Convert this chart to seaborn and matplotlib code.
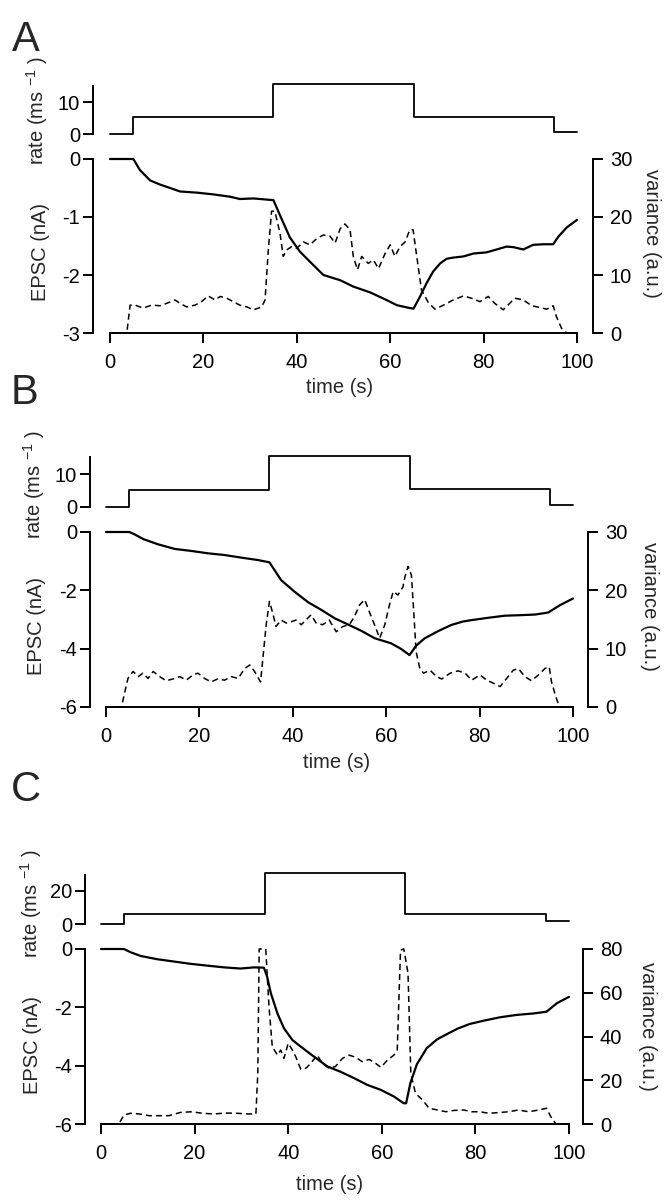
import matplotlib
matplotlib.use("Agg")
import matplotlib.pyplot as plt
import seaborn as sns

# ---------------- data ----------------
rate_t = [0, 5, 35, 65, 95, 100]
A_rate = [0, 5.3, 15.5, 5.3, 0.6, 0.6]
B_rate = [0, 5.3, 15.5, 5.5, 0.7, 0.7]
C_rate = [0, 5.9, 31.0, 6.2, 1.8, 1.8]

A_epsc_t = [0, 5, 6.4, 8.6, 10.7, 13.6, 15, 18.6, 22.1, 25.7, 27.8, 30.7, 33.6, 35, 36.4, 38.5,
            40.7, 42.8, 45.7, 49.3, 52.1, 55.7, 59.2, 61.4, 64.2, 65, 66.4, 67.8, 69.2, 70.7,
            72.1, 73.5, 75.7, 77.8, 80.6, 82.8, 84.9, 86.4, 88.5, 90.6, 92.8, 94.9, 96, 97.8, 100]
A_epsc = [0, 0, -0.19, -0.37, -0.44, -0.52, -0.56, -0.58, -0.61, -0.65, -0.69, -0.68, -0.70, -0.71,
          -0.97, -1.35, -1.60, -1.77, -2.0, -2.09, -2.20, -2.30, -2.43, -2.52, -2.57, -2.58, -2.37,
          -2.14, -1.94, -1.80, -1.72, -1.70, -1.68, -1.63, -1.61, -1.56, -1.51, -1.52, -1.56, -1.48,
          -1.47, -1.47, -1.34, -1.18, -1.05]

A_var_t = [0, 3.6, 4.3, 5.4, 7.1, 8.9, 10.7, 12.1, 13.9, 15, 16.4, 18.2, 19.6, 21, 22.5, 23.6, 25,
           26.4, 27.8, 29.3, 30.7, 32.5, 33.2, 33.9, 34.6, 35.3, 36.4, 37.1, 37.8, 38.9, 40, 41.4,
           42.8, 44.3, 45.7, 47.1, 48.2, 49.3, 50.3, 51.4, 52.1, 53, 53.9, 55.3, 56.4, 57.5, 58.9,
           60, 61, 62.1, 63.2, 64.2, 64.9, 65.6, 66.7, 68.2, 69.6, 71.4, 73.5, 75.7, 77.8, 79.2,
           81, 82.4, 84.2, 85.7, 86.7, 88.5, 90.3, 92.1, 93.5, 94.9, 95.6, 96.7, 97.8, 100]
A_var = [0, 0, 4.8, 4.8, 4.3, 4.8, 4.7, 5.1, 5.7, 5.1, 4.5, 4.8, 5.4, 6.4, 5.7, 6.3, 6.0, 5.4, 4.8,
         4.5, 4.0, 4.5, 5.7, 14.3, 21, 21, 17.2, 13.2, 14.3, 14.9, 14.6, 15.7, 15.2, 16.3, 16.9,
         16.7, 15.5, 18.0, 18.8, 17.8, 13.2, 10.9, 13.2, 12.0, 12.6, 11.1, 13.7, 15.2, 13.2, 14.9,
         15.7, 17.8, 17.8, 13.7, 7.4, 5.2, 4.1, 4.8, 5.7, 6.4, 5.9, 5.4, 6.3, 5.1, 4.0, 5.2, 6.0,
         5.7, 4.7, 4.4, 4.1, 4.7, 2.8, 0.8, 0, 0]

B_epsc_t = [0, 5, 6.1, 8.1, 11.1, 14.7, 18.3, 21.8, 25.4, 29, 32.5, 35, 37.5, 40.4, 43.3, 46.1, 49,
            51.8, 54.7, 57.5, 61.1, 63.2, 65, 66.4, 68.2, 71.1, 73.9, 76.4, 78.3, 81.9, 85.4, 89,
            91.9, 94.7, 97.2, 100]
B_epsc = [0, 0, -0.08, -0.25, -0.42, -0.58, -0.65, -0.73, -0.79, -0.88, -0.96, -1.04, -1.65, -2.05,
          -2.41, -2.67, -2.96, -3.17, -3.39, -3.64, -3.82, -4.01, -4.22, -3.90, -3.65, -3.40, -3.19,
          -3.07, -3.02, -2.94, -2.87, -2.85, -2.83, -2.76, -2.51, -2.28]

B_var_t = [0, 3.3, 4.7, 5.8, 6.9, 7.9, 9, 10.1, 11.5, 12.9, 14.3, 15.8, 17.2, 18.6, 19.7, 21.1,
           22.5, 23.9, 25.4, 26.8, 28.3, 29.7, 30.8, 31.8, 33.1, 33.6, 34.3, 35, 35.7, 36.4, 37.5,
           38.6, 39.6, 40.7, 41.8, 42.8, 43.9, 45, 46.4, 47.8, 49.3, 50.7, 52.1, 53.2, 54.3, 55.4,
           56.4, 57.5, 58.6, 59.7, 60.7, 61.5, 62.5, 63.6, 64, 64.7, 65.4, 65.9, 66.4, 67.2, 68,
           69.4, 70.8, 71.9, 73.7, 75.4, 76.9, 78.3, 80.1, 81.5, 82.9, 84.4, 85.8, 87.2, 88.3,
           89.7, 91.1, 92.6, 94, 94.9, 95.4, 96.2, 96.7, 97.2, 100]
B_var = [0, 0, 4.9, 6.1, 5.2, 5.8, 4.9, 6.1, 5.2, 4.5, 4.8, 5.2, 4.6, 5.5, 5.8, 4.9, 4.3, 4.8, 4.6,
         5.2, 4.9, 6.6, 7.2, 6.1, 4.3, 8.4, 14.1, 18.1, 16.1, 13.8, 14.9, 14.4, 14.6, 14.9, 14.1,
         14.9, 15.8, 14.4, 14.1, 14.9, 12.9, 13.8, 14.1, 15.5, 17.5, 18.4, 16.3, 14.1, 11.8, 14.1,
         17.5, 19.8, 19.2, 20.6, 22.3, 24.1, 22.6, 16.3, 9.5, 6.6, 5.8, 6.3, 5.2, 4.8, 5.8, 6.2,
         5.8, 4.6, 5.5, 4.6, 4.1, 3.5, 4.9, 6.3, 6.6, 5.2, 4.5, 5.5, 6.6, 6.9, 4.3, 2.1, 0.9, 0, 0]

C_epsc_t = [0, 4.9, 6.3, 8.5, 12, 15.6, 19.2, 22.7, 26.3, 29.8, 32.7, 34.8, 35.5, 36.3, 37.7, 39.1,
            40.9, 42.7, 45.5, 48.4, 51.2, 54.1, 56.9, 59.8, 62.6, 64.7, 65.2, 66.1, 67.5, 69.6,
            71.8, 73.9, 76.2, 78.8, 81.7, 85.3, 88.8, 92.4, 95.2, 97.4, 100]
C_epsc = [0, 0, -0.11, -0.24, -0.35, -0.43, -0.51, -0.57, -0.63, -0.67, -0.63, -0.64, -0.95, -1.52,
          -2.21, -2.72, -3.12, -3.35, -3.69, -4.03, -4.21, -4.43, -4.66, -4.83, -5.06, -5.29, -5.29,
          -4.6, -3.95, -3.40, -3.10, -2.92, -2.73, -2.57, -2.46, -2.34, -2.26, -2.21, -2.15, -1.86,
          -1.64]

C_var_t = [0, 3.8, 4.9, 6.3, 8.1, 10.3, 12.4, 14.5, 17, 19.5, 21.6, 24.1, 26.6, 29.1, 31.3, 33.1,
           33.5, 33.8, 35.2, 35.9, 36.6, 37.7, 38.4, 39.1, 40, 40.9, 41.6, 42.7, 43.8, 44.8, 46.2,
           47.3, 48.7, 50.1, 51.6, 53, 54.4, 55.8, 57.3, 58.7, 59.8, 61.2, 62.6, 63.3, 64, 64.7,
           65.6, 66.2, 67.2, 68.7, 70.1, 71.9, 73.7, 75.4, 77.5, 79.2, 81, 82.8, 84.9, 87.1, 89.2,
           91.4, 93.5, 95.2, 96.1, 96.7, 97.2, 100]
C_var = [0, 0, 4.1, 4.9, 4.6, 3.8, 3.8, 3.8, 5.3, 5.6, 4.9, 4.6, 5.0, 4.9, 4.6, 4.6, 23, 80, 80,
         53.6, 35.3, 31.5, 33.8, 30, 36.9, 33.8, 30.8, 25, 25.5, 27.7, 31.5, 27.7, 25.5, 26.3, 30,
         31.5, 30.5, 28.5, 29.5, 27.7, 25.9, 29.2, 31.5, 33.8, 79.5, 80, 69, 23, 14, 11, 7.2, 6.4,
         5.6, 6.2, 6.4, 5.6, 5.6, 4.9, 5.2, 5.6, 6.4, 5.6, 6.4, 7.2, 3.4, 1.5, 0, 0]

x_ticks = [0, 20, 40, 60, 80, 100]
panel_letters = ["A", "B", "C"]
xlabel_text = "time (s)"
rate_label_text = "rate (ms $^{\\mathrm{-1}}$ )"
epsc_label_text = "EPSC (nA)"
var_label_text = "variance (a.u.)"

# ---------------- style ----------------
sns.set_theme(style="ticks")
plt.rcParams["font.family"] = ["Liberation Sans", "DejaVu Sans"]
plt.rcParams["axes.unicode_minus"] = False
plt.rcParams["mathtext.fontset"] = "custom"
plt.rcParams["mathtext.rm"] = "Liberation Sans"
plt.rcParams["mathtext.it"] = "Liberation Sans:italic"
plt.rcParams["mathtext.bf"] = "Liberation Sans:bold"

W, H = 668, 1200
fig = plt.figure(figsize=(W / 100, H / 100), dpi=100)
fig.patch.set_facecolor("white")

PX = 0.72  # points per pixel
FS = 14.5
LW_SPINE = 1.4
TICK_LEN = 7.2

layout = [
    dict(letter_xy=(26, 40), x0=110, x1=577, rate_zero=134, rate_ppu=3.2, rate_lim=16, rate_bound=15,
         rate_ticks=[0, 10], epsc_top=159, epsc_bot=333, epsc_lim=-3, epsc_ticks=[0, -1, -2, -3],
         var_lim=30, var_ticks=[0, 10, 20, 30], lsp=93, rsp=593,
         rate_lab=(37, 110), epsc_lab=(40, 252), var_lab=(652, 233), xlab=(340, 388)),
    dict(letter_xy=(25, 393), x0=106, x1=573, rate_zero=507, rate_ppu=3.3, rate_lim=16, rate_bound=15,
         rate_ticks=[0, 10], epsc_top=532, epsc_bot=707, epsc_lim=-6, epsc_ticks=[0, -2, -4, -6],
         var_lim=30, var_ticks=[0, 10, 20, 30], lsp=90, rsp=588,
         rate_lab=(34, 484), epsc_lab=(36, 626), var_lab=(649, 606), xlab=(337, 762)),
    dict(letter_xy=(26, 790), x0=101, x1=569, rate_zero=924, rate_ppu=1.65, rate_lim=32, rate_bound=30,
         rate_ticks=[0, 20], epsc_top=949, epsc_bot=1124, epsc_lim=-6, epsc_ticks=[0, -2, -4, -6],
         var_lim=80, var_ticks=[0, 20, 40, 60, 80], lsp=85, rsp=583,
         rate_lab=(31, 903), epsc_lab=(32, 1045), var_lab=(648, 1026), xlab=(330, 1184)),
]

rates = [A_rate, B_rate, C_rate]
epsc_t = [A_epsc_t, B_epsc_t, C_epsc_t]
epscs = [A_epsc, B_epsc, C_epsc]
var_t = [A_var_t, B_var_t, C_var_t]
vars_ = [A_var, B_var, C_var]


def rect(x0, x1, ytop, ybot):
    return [x0 / W, 1 - ybot / H, (x1 - x0) / W, (ybot - ytop) / H]


def style_ticks(ax, axis="both"):
    ax.tick_params(axis=axis, length=TICK_LEN, width=LW_SPINE, labelsize=FS, color="black",
                   labelcolor="black", direction="out")


for i, L in enumerate(layout):
    # ---- rate axes ----
    rate_top = L["rate_zero"] - L["rate_lim"] * L["rate_ppu"]
    axr = fig.add_axes(rect(L["x0"], L["x1"], rate_top, L["rate_zero"]))
    axr.patch.set_alpha(0)
    sns.lineplot(x=rate_t, y=rates[i], ax=axr, color="black", lw=1.3, drawstyle="steps-post",
                 estimator=None, sort=False, errorbar=None)
    axr.lines[-1].set_clip_on(False)
    axr.set_xlim(0, 100)
    axr.set_ylim(0, L["rate_lim"])
    for s in ["top", "right", "bottom"]:
        axr.spines[s].set_visible(False)
    axr.spines["left"].set_position(("outward", (L["x0"] - L["lsp"]) * PX))
    axr.spines["left"].set_bounds(0, L["rate_bound"])
    axr.spines["left"].set_linewidth(LW_SPINE)
    axr.spines["left"].set_color("black")
    axr.set_xticks([])
    axr.set_yticks(L["rate_ticks"])
    style_ticks(axr, "y")
    axr.tick_params(axis="y", pad=2)
    axr.set_xlabel("")
    axr.set_ylabel("")

    # ---- EPSC axes ----
    ax = fig.add_axes(rect(L["x0"], L["x1"], L["epsc_top"], L["epsc_bot"]))
    ax.patch.set_alpha(0)
    sns.lineplot(x=epsc_t[i], y=epscs[i], ax=ax, color="black", lw=1.6,
                 estimator=None, sort=False, errorbar=None)
    ax.lines[-1].set_clip_on(False)
    ax.set_xlim(0, 100)
    ax.set_ylim(L["epsc_lim"], 0)
    ax.spines["top"].set_visible(False)
    ax.spines["right"].set_visible(False)
    ax.spines["left"].set_position(("outward", (L["x0"] - L["lsp"]) * PX))
    ax.spines["left"].set_bounds(L["epsc_lim"], 0)
    ax.spines["bottom"].set_bounds(0, 100)
    for s in ["left", "bottom"]:
        ax.spines[s].set_linewidth(LW_SPINE)
        ax.spines[s].set_color("black")
    ax.set_xticks(x_ticks)
    ax.set_yticks(L["epsc_ticks"])
    style_ticks(ax)
    ax.tick_params(axis="y", pad=2)
    ax.tick_params(axis="x", pad=7)
    ax.set_xlabel("")
    ax.set_ylabel("")

    # ---- variance (twin) ----
    axv = ax.twinx()
    axv.patch.set_alpha(0)
    sns.lineplot(x=var_t[i], y=vars_[i], ax=axv, color="black", lw=1.1,
                 estimator=None, sort=False, errorbar=None)
    ln = axv.lines[-1]
    ln.set_linestyle((0, (4, 2.6)))
    ln.set_clip_on(False)
    axv.set_ylim(0, L["var_lim"])
    for s in ["top", "left", "bottom"]:
        axv.spines[s].set_visible(False)
    axv.spines["right"].set_position(("outward", (L["rsp"] - L["x1"]) * PX))
    axv.spines["right"].set_bounds(0, L["var_lim"])
    axv.spines["right"].set_linewidth(LW_SPINE)
    axv.spines["right"].set_color("black")
    axv.set_yticks(L["var_ticks"])
    style_ticks(axv, "y")
    axv.tick_params(axis="y", pad=5)
    axv.set_xlabel("")
    axv.set_ylabel("")

    # ---- texts ----
    lx, ly = L["letter_xy"]
    fig.text(lx / W, 1 - ly / H, panel_letters[i], fontsize=30, ha="center", va="center")
    fig.text(L["rate_lab"][0] / W, 1 - L["rate_lab"][1] / H, rate_label_text, fontsize=FS,
             rotation=90, ha="center", va="center")
    fig.text(L["epsc_lab"][0] / W, 1 - L["epsc_lab"][1] / H, epsc_label_text, fontsize=FS,
             rotation=90, ha="center", va="center")
    fig.text(L["var_lab"][0] / W, 1 - L["var_lab"][1] / H, var_label_text, fontsize=FS,
             rotation=-90, ha="center", va="center")
    fig.text(L["xlab"][0] / W, 1 - L["xlab"][1] / H, xlabel_text, fontsize=FS,
             ha="center", va="center")

fig.savefig("out.png", dpi=100, facecolor="white")
